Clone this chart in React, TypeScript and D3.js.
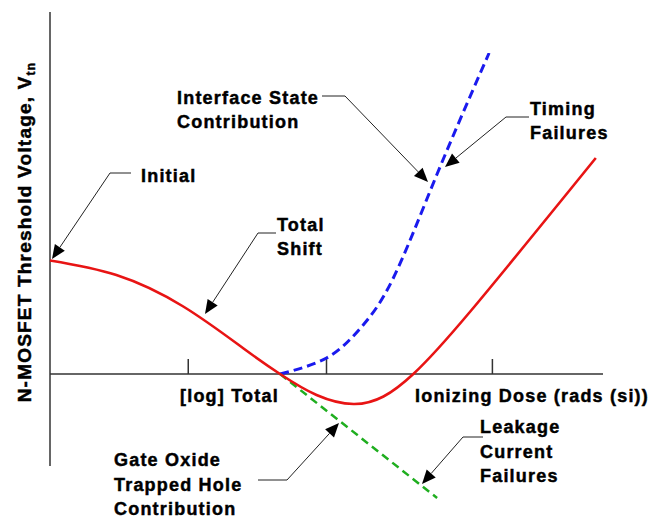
import React from "react";
import * as d3 from "d3";

// Dose axis (arbitrary log-dose units) and threshold-voltage axis (arbitrary units)
const doseTicks = [25, 50, 80];

// Total threshold-voltage shift
const totalDose = [0, 12, 24.1, 35, 41.6, 48.2, 54.9, 60.3, 65.7, 76, 98.7];
const totalShift = [22.7, 19.8, 13.5, 5.1, 0, -4.2, -6, -4.5, 0, 12.5, 43.2];

// Interface-state contribution
const interfaceDose = [41.6, 50, 56, 62, 70, 79.4];
const interfaceShift = [0, 3.2, 9, 19, 40, 64.2];

// Gate-oxide trapped-hole contribution
const oxideDose = [41.6, 70];
const oxideShift = [0, -24.8];

const W = 657;
const H = 519;

const x = d3.scaleLinear().domain([0, 100]).range([50, 603]);
const y = d3.scaleLinear().domain([-18.4, 72.4]).range([466, 12]);

const smooth = d3
  .line<[number, number]>()
  .x((d) => x(d[0]))
  .y((d) => y(d[1]))
  .curve(d3.curveNatural);

const zip = (a: number[], b: number[]) => a.map((v, i) => [v, b[i]] as [number, number]);

type Note = {
  lines: string[];
  tx: number;
  ty: number;
  lh: number;
  bar: [number, number, number]; // x1, x2, y of the horizontal leader
  elbow: [number, number];
  tip: [number, number];
};

const notes: Note[] = [
  { lines: ["Initial"], tx: 141, ty: 182, lh: 24, bar: [110, 131, 173], elbow: [110, 173], tip: [52, 259] },
  { lines: ["Interface State", "Contribution"], tx: 177, ty: 104, lh: 24, bar: [322, 345, 96], elbow: [345, 96], tip: [428, 182] },
  { lines: ["Total", "Shift"], tx: 277, ty: 231, lh: 24, bar: [258, 276, 233], elbow: [258, 233], tip: [205, 314] },
  { lines: ["Timing", "Failures"], tx: 530, ty: 115, lh: 24, bar: [506, 529, 117], elbow: [506, 117], tip: [445, 167] },
  { lines: ["Gate Oxide", "Trapped Hole", "Contribution"], tx: 114, ty: 466, lh: 24.5, bar: [258, 287, 480], elbow: [287, 480], tip: [339, 423] },
  { lines: ["Leakage", "Current", "Failures"], tx: 480, ty: 433, lh: 24.5, bar: [463, 483, 437], elbow: [463, 437], tip: [422, 484] },
];

const font = "'Liberation Sans', Arial, Helvetica, sans-serif";
const textProps = {
  fontWeight: "bold" as const,
  letterSpacing: 1.2,
  fill: "#000",
  stroke: "#000",
  strokeWidth: 0.45,
};

function Arrow({ from, tip }: { from: [number, number]; tip: [number, number] }) {
  const dx = tip[0] - from[0];
  const dy = tip[1] - from[1];
  const len = Math.hypot(dx, dy);
  const ux = dx / len;
  const uy = dy / len;
  const L = 14;
  const hw = 6;
  const bx = tip[0] - ux * L;
  const by = tip[1] - uy * L;
  const pts = [
    [tip[0], tip[1]],
    [bx - uy * hw, by + ux * hw],
    [bx + uy * hw, by - ux * hw],
  ];
  return (
    <g>
      <line x1={from[0]} y1={from[1]} x2={bx} y2={by} stroke="#222" strokeWidth={1} />
      <polygon points={pts.map((p) => p.join(",")).join(" ")} fill="#000" />
    </g>
  );
}

export default function App() {
  const y0 = y(0);
  return (
    <svg
      width={W}
      height={H}
      style={{ position: "absolute", left: 0, top: 0, background: "#fff" }}
      fontFamily={font}
    >
      {/* axes */}
      <line x1={x(0)} y1={12} x2={x(0)} y2={466} stroke="#333" strokeWidth={1.5} />
      <line x1={x(0)} y1={y0} x2={x(100)} y2={y0} stroke="#333" strokeWidth={1.5} />
      {doseTicks.map((t) => (
        <line key={t} x1={x(t)} y1={y0} x2={x(t)} y2={y0 - 15} stroke="#333" strokeWidth={1.5} />
      ))}

      {/* contributions */}
      <path
        d={smooth(zip(interfaceDose, interfaceShift)) || ""}
        fill="none"
        stroke="#1a1aee"
        strokeWidth={3}
        strokeDasharray="9 5"
      />
      <path
        d={smooth(zip(oxideDose, oxideShift)) || ""}
        fill="none"
        stroke="#1fae1f"
        strokeWidth={2.5}
        strokeDasharray="8 5"
      />
      <path d={smooth(zip(totalDose, totalShift)) || ""} fill="none" stroke="#e81414" strokeWidth={2.6} />

      {/* axis labels */}
      <text x={180} y={402} fontSize={18} {...textProps}>
        [log] Total
      </text>
      <text x={415} y={402} fontSize={18} {...textProps}>
        Ionizing Dose (rads (si))
      </text>
      <text transform="translate(31,232) rotate(-90)" textAnchor="middle" fontSize={19} {...textProps}>
        N-MOSFET Threshold Voltage, V
        <tspan fontSize={12} dy={4}>tn</tspan>
      </text>

      {/* annotations */}
      {notes.map((n, i) => (
        <g key={i}>
          <line x1={n.bar[0]} y1={n.bar[2]} x2={n.bar[1]} y2={n.bar[2]} stroke="#222" strokeWidth={1} />
          <Arrow from={n.elbow} tip={n.tip} />
          <text fontSize={18} {...textProps}>
            {n.lines.map((s, j) => (
              <tspan key={j} x={n.tx} y={n.ty + j * n.lh}>
                {s}
              </tspan>
            ))}
          </text>
        </g>
      ))}
    </svg>
  );
}
